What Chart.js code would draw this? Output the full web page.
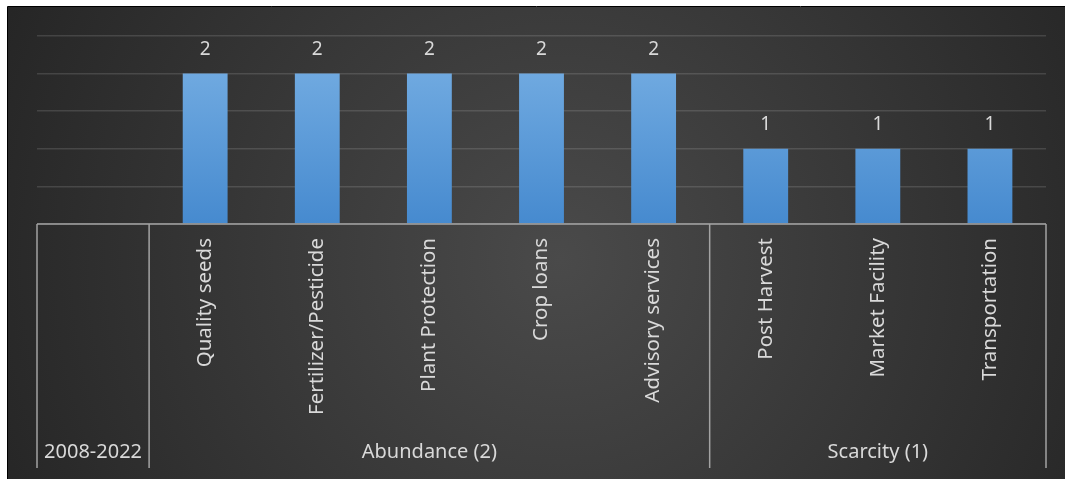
<!DOCTYPE html>
<html>
<head>
<meta charset="utf-8">
<script src="https://cdn.jsdelivr.net/npm/chart.js@4"></script>
<style>
  html, body { margin: 0; padding: 0; background: #ffffff; }
  #wrap { width: 1065px; height: 479px; }
</style>
</head>
<body>
<div id="wrap"><canvas id="chart" width="1065" height="479"></canvas></div>
<script>
// categories and values
const categories = ['', 'Quality seeds', 'Fertilizer/Pesticide', 'Plant Protection', 'Crop loans',
  'Advisory services', 'Post Harvest', 'Market Facility', 'Transportation'];
const values = [null, 2, 2, 2, 2, 2, 1, 1, 1];

// outer grouping of the category axis
const groupNames = ['2008-2022', 'Abundance (2)', 'Scarcity (1)'];
const groupSizes = [1, 5, 3];

const yMax = 2.5;
const yStep = 0.5;

const textColor = '#d9d9d9';
const lineColor = '#a3a3a3';
const fontFamily = '"Noto Sans", "Open Sans", sans-serif';

// dark backdrop
const backdrop = {
  id: 'backdrop',
  beforeDraw(chart) {
    const ctx = chart.ctx;
    const w = chart.width, h = chart.height;
    ctx.save();
    ctx.fillStyle = '#ffffff';
    ctx.fillRect(0, 0, w, h);
    const g = ctx.createRadialGradient(560, 260, 0, 560, 260, 620);
    g.addColorStop(0, '#4a4a4a');
    g.addColorStop(1, '#252525');
    ctx.fillStyle = g;
    ctx.fillRect(8, 7, w - 8, h - 7);
    ctx.strokeStyle = '#000000';
    ctx.lineWidth = 1;
    ctx.beginPath();
    ctx.moveTo(7.5, h);
    ctx.lineTo(7.5, 6.5);
    ctx.lineTo(w, 6.5);
    ctx.stroke();
    ctx.restore();
  }
};

// value labels above bars
const valueLabels = {
  id: 'valueLabels',
  afterDatasetsDraw(chart) {
    const ctx = chart.ctx;
    const meta = chart.getDatasetMeta(0);
    ctx.save();
    ctx.fillStyle = textColor;
    ctx.font = '19px ' + fontFamily;
    ctx.textAlign = 'center';
    ctx.textBaseline = 'alphabetic';
    meta.data.forEach((bar, i) => {
      if (values[i] == null) return;
      ctx.fillText(String(values[i]), bar.x, bar.y - 19);
    });
    ctx.restore();
  }
};

// multi-level axis: baseline, group dividers and group names
const groupAxis = {
  id: 'groupAxis',
  afterDraw(chart) {
    const ctx = chart.ctx;
    const x = chart.scales.x;
    const y0 = chart.chartArea.bottom;
    const yEnd = 468;
    const w = (x.right - x.left) / categories.length;
    ctx.save();
    ctx.strokeStyle = lineColor;
    ctx.lineWidth = 1.5;
    ctx.beginPath();
    ctx.moveTo(x.left, y0);
    ctx.lineTo(x.right, y0);
    let start = 0;
    const edges = [x.left];
    groupSizes.forEach(n => {
      start += n;
      edges.push(x.left + start * w);
    });
    edges.forEach(px => {
      ctx.moveTo(px, y0);
      ctx.lineTo(px, yEnd);
    });
    ctx.stroke();

    ctx.fillStyle = textColor;
    ctx.font = '20px ' + fontFamily;
    ctx.textAlign = 'center';
    ctx.textBaseline = 'middle';
    groupNames.forEach((name, i) => {
      ctx.fillText(name, (edges[i] + edges[i + 1]) / 2, 452);
    });
    ctx.restore();
  }
};

const ctx = document.getElementById('chart').getContext('2d');
new Chart(ctx, {
  type: 'bar',
  data: {
    labels: categories,
    datasets: [{
      data: values,
      backgroundColor(context) {
        const chart = context.chart;
        const area = chart.chartArea;
        const ys = chart.scales.y;
        if (!area || !ys) return '#5b9bd5';
        const top = ys.getPixelForValue(2);
        const bottom = ys.getPixelForValue(0);
        if (!isFinite(top) || !isFinite(bottom)) return '#5b9bd5';
        const g = chart.ctx.createLinearGradient(0, top, 0, bottom);
        g.addColorStop(0, '#6fa9e0');
        g.addColorStop(1, '#468acf');
        return g;
      },
      borderWidth: 0,
      barPercentage: 0.4,
      categoryPercentage: 1.0
    }]
  },
  options: {
    responsive: false,
    animation: false,
    layout: { padding: { left: 37, right: 19, top: 36, bottom: 0 } },
    plugins: {
      legend: { display: false },
      tooltip: { enabled: false }
    },
    scales: {
      x: {
        grid: { display: false, drawTicks: false },
        border: { display: false },
        ticks: {
          color: textColor,
          font: { family: fontFamily, size: 20.5 },
          minRotation: 90,
          maxRotation: 90,
          autoSkip: false,
          padding: 14
        },
        afterFit(scale) { scale.height = 255; }
      },
      y: {
        min: 0,
        max: yMax,
        ticks: { display: false, stepSize: yStep },
        grid: { color: 'rgba(255,255,255,0.13)', lineWidth: 1.5, drawTicks: false },
        border: { display: false },
        afterFit(scale) { scale.width = 0; }
      }
    }
  },
  plugins: [backdrop, valueLabels, groupAxis]
});
</script>
</body>
</html>
